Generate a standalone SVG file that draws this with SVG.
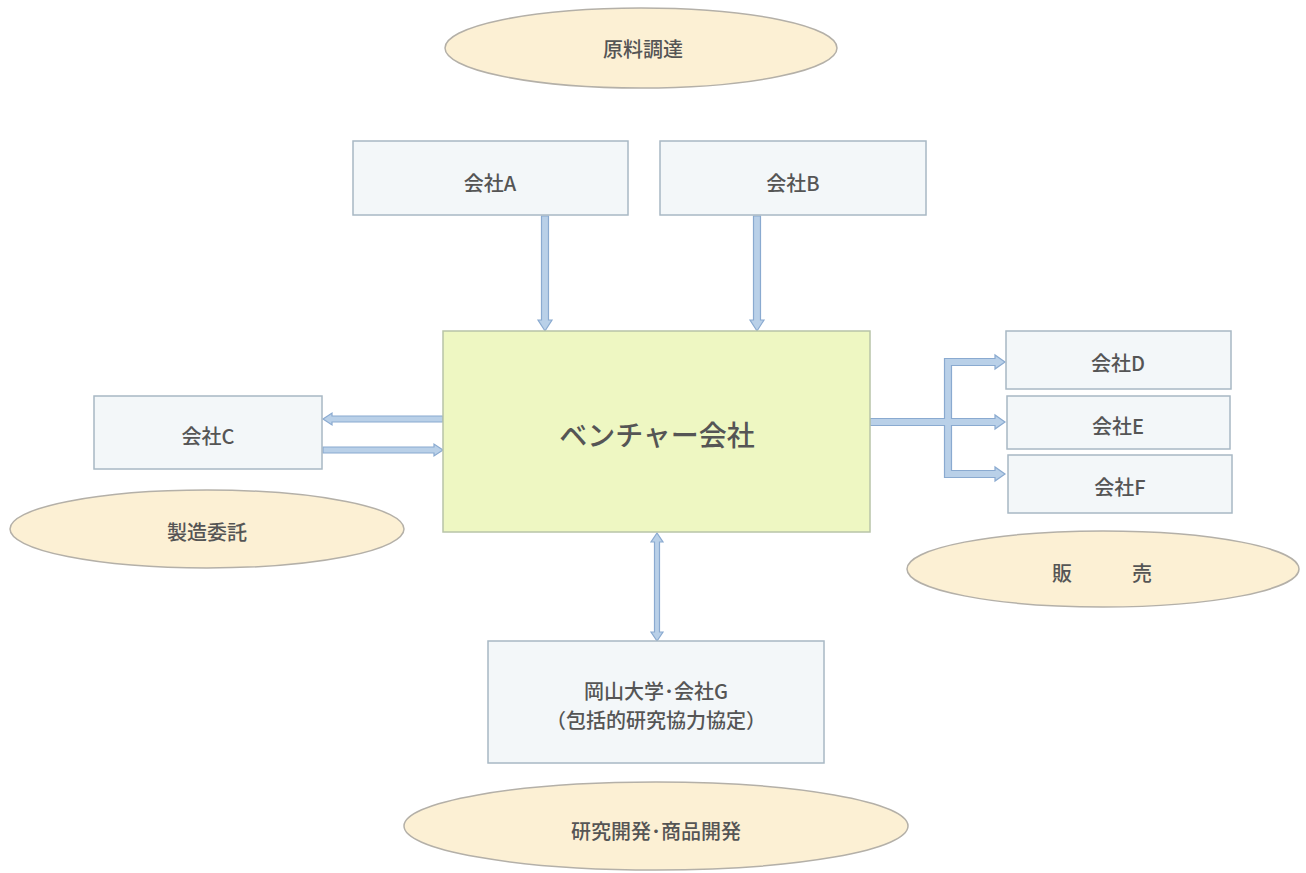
<svg xmlns="http://www.w3.org/2000/svg" width="1306" height="873" viewBox="0 0 1306 873">
<style>
.box{fill:#f3f7f9;stroke:#a8b8c4;stroke-width:1.5}
.main{fill:#eef7c2;stroke:#b8c4a8;stroke-width:1.5}
.oval{fill:#fcf0d4;stroke:#b4b0a8;stroke-width:1.5}
.arr{fill:#b9d0e8;stroke:#8aaad0;stroke-width:1.2;stroke-linejoin:miter}
text{font-family:"Noto Sans CJK JP","Noto Sans",sans-serif;fill:#555;text-anchor:middle;font-weight:500}
.t{font-size:20px}
.big{font-size:28px}
</style>
<rect width="1306" height="873" fill="#ffffff"/>
<g id="connectors">
<polygon class="arr" points="541.5,216 548.5,216 548.5,320 552,320 545,331 538,320 541.5,320"/>
<polygon class="arr" points="753.5,216 760.5,216 760.5,320 764,320 757,331 750,320 753.5,320"/>
<polygon class="arr" points="443,416 332,416 332,413 323,419 332,425 332,422 443,422"/>
<polygon class="arr" points="323,447 434,447 434,444 443,450 434,456 434,453 323,453"/>
<polygon class="arr" points="870,418.5 944.5,418.5 944.5,358.5 995,358.5 995,355 1005,362 995,369 995,365.5 951.5,365.5 951.5,418.5 995,418.5 995,415 1005,422 995,429 995,425.5 951.5,425.5 951.5,470.5 995,470.5 995,467 1005,474 995,481 995,477.5 944.5,477.5 944.5,425.5 870,425.5"/>
<polygon class="arr" points="657,533 663,542 659.5,542 659.5,632 663,632 657,641 651,632 654.5,632 654.5,542 651,542"/>
</g>
<g id="oval-genryo"><ellipse class="oval" cx="641" cy="48" rx="196" ry="40"/><text class="t" x="643" y="57">原料調達</text></g>
<g id="node-A"><rect class="box" x="353" y="141" width="275" height="74"/><text class="t" x="490" y="191">会社A</text></g>
<g id="node-B"><rect class="box" x="660" y="141" width="266" height="74"/><text class="t" x="793" y="191">会社B</text></g>
<g id="node-venture"><rect class="main" x="443" y="331" width="427" height="201"/><text class="big" x="657" y="446">ベンチャー会社</text></g>
<g id="node-C"><rect class="box" x="94" y="396" width="228" height="73"/><text class="t" x="208" y="444">会社C</text></g>
<g id="node-D"><rect class="box" x="1006" y="331" width="225" height="58"/><text class="t" x="1118" y="371">会社D</text></g>
<g id="node-E"><rect class="box" x="1007" y="396" width="223" height="53"/><text class="t" x="1118" y="434">会社E</text></g>
<g id="node-F"><rect class="box" x="1008" y="455" width="224" height="58"/><text class="t" x="1120" y="495">会社F</text></g>
<g id="oval-seizo"><ellipse class="oval" cx="207" cy="529" rx="197" ry="39"/><text class="t" x="207" y="540">製造委託</text></g>
<g id="oval-hanbai"><ellipse class="oval" cx="1103" cy="569" rx="196" ry="38"/><text class="t" y="581"><tspan x="1062">販</tspan><tspan x="1142">売</tspan></text></g>
<g id="node-G"><rect class="box" x="488" y="641" width="336" height="122"/><text class="t" x="656" y="699">岡山大学･会社G</text><text class="t" x="656" y="728">（包括的研究協力協定）</text></g>
<g id="oval-kenkyu"><ellipse class="oval" cx="656" cy="826" rx="252" ry="44"/><text class="t" x="656" y="839">研究開発･商品開発</text></g>
</svg>
